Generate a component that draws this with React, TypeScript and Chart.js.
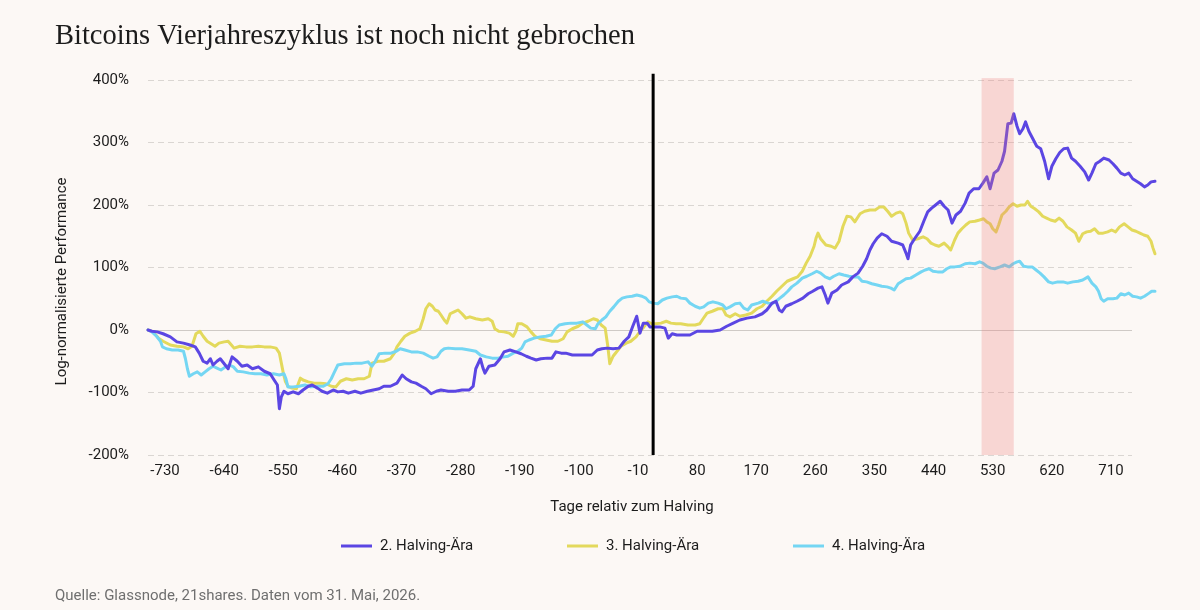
import React, { useEffect, useRef } from "react";
import { Chart, registerables } from "chart.js";

Chart.register(...registerables);

// ---- Texts ----
const TITLE = "Bitcoins Vierjahreszyklus ist noch nicht gebrochen";
const SOURCE = "Quelle: Glassnode, 21shares. Daten vom 31. Mai, 2026.";
const X_TITLE = "Tage relativ zum Halving";
const Y_TITLE = "Log-normalisierte Performance";
const SERIES_LABELS = ["2. Halving-Ära", "3. Halving-Ära", "4. Halving-Ära"];

// ---- Axes ----
const X_TICKS = [-730, -640, -550, -460, -370, -280, -190, -100, -10, 80, 170, 260, 350, 440, 530, 620, 710];
const X_RANGE = [-756, 742];
const Y_TICKS = [-200, -100, 0, 100, 200, 300, 400];
const Y_RANGE = [-200, 400];

// ---- Reference marks ----
const HALVING_MARK_DAY = 13;
const HALVING_MARK_TOP = 410;
const HIGHLIGHT_DAYS = [513, 562];
const HIGHLIGHT_TOP = 403;

// ---- 2. Halving-Ära ----
const era2Days = [
  -756, -750, -742, -733, -722, -712, -702, -692, -684, -678,
  -672, -666, -661, -657, -651, -646, -640, -634, -628, -620,
  -613, -605, -597, -588, -579, -570, -564, -559, -556, -553,
  -549, -543, -535, -527, -520, -512, -506, -498, -491, -483,
  -474, -467, -459, -451, -441, -432, -422, -413, -404, -397,
  -387, -377, -369, -363, -355, -348, -340, -333, -325, -317,
  -310, -299, -288, -278, -267, -261, -257, -250, -246, -243,
  -237, -228, -220, -214, -205, -196, -188, -180, -173, -165,
  -158, -148, -141, -135, -127, -120, -110, -101, -91, -80,
  -72, -65, -57, -48, -39, -31, -24, -18, -12, -7,
  -2, 4, 8, 14, 23, 31, 36, 42, 49, 58,
  69, 80, 92, 103, 115, 125, 135, 145, 156, 168,
  179, 186, 194, 200, 205, 209, 215, 224, 232, 241,
  249, 256, 264, 270, 275, 279, 285, 293, 300, 310,
  317, 325, 332, 338, 343, 348, 354, 361, 369, 376,
  386, 393, 398, 401, 405, 411, 419, 425, 431, 437,
  443, 450, 456, 462, 468, 474, 481, 488, 494, 501,
  509, 515, 521, 526, 532, 538, 544, 548, 553, 558,
  562, 567, 571, 576, 580, 585, 591, 597, 603, 609,
  615, 620, 626, 632, 638, 644, 650, 656, 663, 670,
  676, 681, 687, 693, 699, 707, 713, 719, 725, 731,
  737, 743, 749, 755, 761, 766, 771, 777,
];
const era2Perf = [
  0, -2, -3, -6, -11, -19, -21, -24, -27, -37,
  -50, -53, -46, -56, -50, -46, -54, -62, -43, -50,
  -58, -56, -62, -59, -66, -70, -80, -88, -126, -107,
  -98, -102, -99, -102, -96, -90, -88, -93, -98, -101,
  -96, -99, -98, -101, -98, -101, -98, -96, -94, -90,
  -90, -85, -72, -78, -83, -85, -90, -94, -102, -98,
  -96, -98, -98, -96, -96, -90, -62, -46, -61, -69,
  -58, -56, -46, -35, -32, -35, -38, -42, -45, -48,
  -46, -45, -45, -35, -37, -37, -40, -40, -40, -40,
  -32, -30, -29, -30, -29, -18, -11, 6, 22, -5,
  11, 11, 5, 5, 5, 3, -13, -6, -8, -8,
  -8, -2, -2, -2, 0, 6, 11, 16, 19, 21,
  26, 32, 43, 46, 32, 29, 38, 42, 46, 51,
  58, 62, 67, 69, 56, 43, 59, 64, 72, 77,
  85, 91, 102, 114, 128, 138, 147, 154, 150, 142,
  139, 136, 123, 114, 136, 146, 158, 174, 189, 195,
  200, 206, 198, 192, 171, 184, 190, 203, 219, 226,
  226, 235, 245, 226, 251, 256, 270, 286, 330, 331,
  346, 326, 314, 322, 333, 318, 306, 294, 290, 270,
  242, 262, 274, 284, 290, 291, 275, 270, 262, 253,
  240, 251, 266, 270, 275, 272, 266, 259, 251, 248,
  251, 242, 238, 234, 229, 232, 237, 238,
];

// ---- 3. Halving-Ära ----
const era3Days = [
  -756, -748, -740, -733, -722, -712, -702, -695, -689, -683,
  -677, -672, -666, -660, -654, -648, -640, -634, -629, -625,
  -616, -607, -597, -588, -579, -570, -561, -556, -553, -550,
  -547, -543, -537, -530, -524, -520, -512, -503, -494, -485,
  -477, -470, -463, -454, -445, -436, -427, -419, -415, -406,
  -397, -387, -381, -377, -371, -365, -357, -349, -342, -337,
  -333, -328, -323, -319, -314, -310, -305, -301, -296, -290,
  -284, -278, -272, -266, -257, -247, -238, -232, -228, -222,
  -214, -206, -200, -196, -193, -187, -179, -173, -167, -159,
  -150, -141, -132, -124, -118, -110, -101, -94, -86, -78,
  -72, -66, -60, -56, -53, -48, -42, -36, -28, -21,
  -13, -7, -1, 5, 11, 17, 25, 33, 40, 48,
  55, 66, 77, 84, 89, 95, 103, 112, 119, 124,
  130, 138, 145, 154, 163, 171, 179, 186, 194, 201,
  209, 217, 226, 233, 240, 246, 252, 258, 261, 264,
  268, 276, 284, 290, 296, 302, 308, 314, 320, 328,
  335, 343, 351, 358, 364, 370, 376, 383, 389, 393,
  398, 402, 408, 416, 424, 430, 436, 442, 448, 456,
  462, 466, 472, 477, 483, 489, 495, 503, 510, 516,
  521, 526, 530, 535, 539, 544, 550, 555, 561, 567,
  573, 579, 583, 588, 594, 600, 606, 612, 618, 625,
  631, 637, 643, 650, 656, 661, 667, 673, 679, 685,
  691, 698, 705, 711, 717, 723, 730, 736, 742, 748,
  754, 760, 766, 771, 774, 777,
];
const era3Perf = [
  0, -3, -13, -18, -24, -26, -27, -30, -26, -6,
  -2, -10, -18, -22, -26, -21, -19, -18, -24, -29,
  -26, -27, -27, -26, -27, -27, -29, -37, -53, -69,
  -82, -90, -93, -94, -77, -80, -83, -85, -85, -86,
  -90, -91, -82, -78, -80, -78, -78, -74, -53, -50,
  -50, -46, -37, -27, -18, -10, -5, -2, 2, 18,
  34, 42, 38, 32, 30, 24, 16, 11, 26, 29,
  32, 26, 19, 21, 18, 16, 18, 14, 2, -2,
  -3, -5, -10, -2, 10, 10, 5, -3, -10, -14,
  -16, -18, -18, -14, -3, 2, 6, 11, 14, 18,
  16, 8, 3, -26, -54, -42, -34, -26, -21, -18,
  -11, -2, 5, 13, 10, 10, 11, 14, 11, 10,
  10, 8, 8, 10, 18, 27, 30, 34, 34, 24,
  21, 26, 22, 24, 27, 34, 38, 46, 54, 62,
  70, 78, 82, 85, 94, 107, 118, 134, 147, 155,
  146, 136, 134, 131, 142, 166, 182, 181, 173, 186,
  190, 192, 192, 197, 197, 190, 182, 187, 189, 186,
  171, 155, 144, 146, 149, 146, 139, 136, 134, 139,
  133, 128, 144, 155, 162, 168, 173, 174, 176, 178,
  173, 170, 162, 157, 168, 184, 190, 197, 202, 198,
  200, 200, 206, 198, 194, 189, 182, 179, 176, 174,
  179, 174, 165, 160, 155, 142, 154, 157, 158, 162,
  155, 155, 157, 160, 157, 165, 170, 165, 160, 158,
  155, 152, 150, 142, 131, 122,
];

// ---- 4. Halving-Ära ----
const era4Days = [
  -756, -750, -743, -737, -734, -728, -719, -710, -702, -699,
  -696, -693, -687, -681, -675, -669, -663, -657, -651, -645,
  -638, -632, -626, -620, -611, -602, -593, -584, -575, -565,
  -556, -549, -546, -543, -535, -526, -517, -508, -498, -489,
  -482, -477, -473, -467, -457, -448, -439, -430, -421, -415,
  -410, -404, -395, -386, -378, -372, -365, -355, -346, -337,
  -328, -322, -316, -310, -305, -299, -288, -278, -267, -257,
  -250, -241, -232, -223, -214, -208, -200, -193, -187, -182,
  -176, -168, -159, -150, -142, -136, -130, -121, -112, -103,
  -94, -88, -82, -75, -71, -65, -59, -53, -47, -40,
  -34, -27, -19, -12, -4, 2, 7, 13, 20, 27,
  34, 42, 49, 55, 63, 69, 77, 84, 90, 97,
  104, 112, 119, 124, 130, 138, 145, 151, 157, 163,
  173, 180, 188, 194, 200, 206, 212, 218, 224, 232,
  240, 247, 255, 262, 268, 275, 282, 288, 296, 303,
  311, 319, 325, 331, 338, 346, 354, 361, 369, 375,
  380, 386, 392, 398, 405, 413, 421, 427, 433, 439,
  446, 454, 460, 466, 472, 480, 488, 495, 503, 510,
  515, 521, 527, 533, 541, 548, 555, 561, 567, 571,
  577, 583, 590, 596, 602, 608, 615, 621, 629, 637,
  644, 652, 660, 667, 675, 681, 687, 691, 695, 699,
  705, 713, 719, 725, 731, 737, 743, 749, 755, 761,
  768, 772, 777,
];
const era4Perf = [
  0, -3, -10, -18, -27, -30, -32, -32, -34, -46,
  -62, -74, -70, -67, -72, -67, -62, -58, -61, -64,
  -59, -56, -59, -66, -67, -69, -70, -70, -72, -70,
  -72, -70, -78, -91, -91, -90, -88, -91, -90, -90,
  -86, -78, -69, -56, -54, -54, -53, -53, -51, -58,
  -50, -38, -37, -37, -34, -30, -32, -35, -35, -37,
  -42, -45, -43, -34, -30, -29, -30, -30, -32, -34,
  -40, -43, -45, -45, -43, -42, -37, -34, -29, -19,
  -16, -13, -11, -10, -8, 2, 8, 10, 11, 11,
  13, 8, 3, 2, 10, 16, 21, 30, 37, 46,
  51, 53, 54, 56, 54, 51, 45, 43, 42, 48,
  51, 53, 54, 51, 50, 43, 38, 35, 37, 43,
  45, 43, 40, 34, 37, 42, 43, 35, 32, 40,
  43, 46, 43, 42, 46, 51, 56, 62, 69, 75,
  83, 86, 90, 94, 91, 85, 82, 86, 90, 88,
  86, 85, 85, 78, 77, 74, 72, 70, 69, 67,
  64, 74, 78, 82, 83, 88, 93, 96, 98, 94,
  93, 93, 98, 101, 101, 102, 106, 107, 106, 109,
  107, 102, 99, 98, 101, 104, 101, 106, 109, 110,
  102, 101, 101, 96, 91, 85, 77, 75, 77, 77,
  75, 77, 78, 80, 85, 75, 69, 62, 50, 46,
  50, 50, 51, 58, 56, 59, 54, 53, 51, 54,
  59, 62, 62,
];

// ---- Styling ----
const COLORS = ["#5b46e3", "#e3d95c", "#74d6f3"];
const BG = "#fcf8f5";
const INK = "#1c1c1c";
const MUTED = "#6f6f6f";
const SANS = "Roboto, 'Liberation Sans', sans-serif";
const SERIF = "'Liberation Serif', 'DejaVu Serif', serif";

const toPoints = (days: number[], perf: number[]) => days.map((d, i) => ({ x: d, y: perf[i] }));

// Highlight band, halving marker, axis titles, legend and source line.
const decorations = {
  id: "decorations",
  afterDatasetsDraw(chart: any) {
    const { ctx } = chart;
    const x = chart.scales.x;
    const y = chart.scales.y;
    const bottom = y.getPixelForValue(Y_RANGE[0]);
    ctx.save();
    const b0 = x.getPixelForValue(HIGHLIGHT_DAYS[0]);
    const b1 = x.getPixelForValue(HIGHLIGHT_DAYS[1]);
    const bTop = y.getPixelForValue(HIGHLIGHT_TOP);
    ctx.fillStyle = "rgba(236, 122, 122, 0.27)";
    ctx.fillRect(b0, bTop, b1 - b0, bottom - bTop);

    const hx = x.getPixelForValue(HALVING_MARK_DAY);
    ctx.strokeStyle = "#000000";
    ctx.lineWidth = 3;
    ctx.beginPath();
    ctx.moveTo(hx, y.getPixelForValue(HALVING_MARK_TOP));
    ctx.lineTo(hx, bottom);
    ctx.stroke();
    ctx.restore();
  },
  afterDraw(chart: any) {
    const { ctx, chartArea } = chart;
    ctx.save();
    ctx.font = `15px ${SANS}`;
    ctx.fillStyle = INK;
    ctx.textBaseline = "middle";

    // x-axis title
    ctx.textAlign = "center";
    ctx.fillText(X_TITLE, 632, chartArea.bottom + 52);

    // y-axis title
    ctx.save();
    ctx.translate(62, (chartArea.top + chartArea.bottom) / 2 + 14);
    ctx.rotate(-Math.PI / 2);
    ctx.fillText(Y_TITLE, 0, 0);
    ctx.restore();

    // legend
    ctx.textAlign = "left";
    const legendY = chartArea.bottom + 91;
    chart.data.datasets.forEach((ds: any, i: number) => {
      const lx = 341 + i * 226;
      ctx.strokeStyle = ds.borderColor;
      ctx.lineWidth = 3;
      ctx.beginPath();
      ctx.moveTo(lx, legendY);
      ctx.lineTo(lx + 31, legendY);
      ctx.stroke();
      ctx.fillStyle = INK;
      ctx.fillText(ds.label, lx + 39, legendY);
    });

    // source
    ctx.fillStyle = MUTED;
    ctx.fillText(SOURCE, 55, chartArea.bottom + 141);
    ctx.restore();
  },
};

export default function App() {
  const canvasRef = useRef<HTMLCanvasElement | null>(null);

  useEffect(() => {
    const canvas = canvasRef.current;
    if (!canvas) return;
    const series = [
      { data: toPoints(era2Days, era2Perf), order: 1 },
      { data: toPoints(era3Days, era3Perf), order: 3 },
      { data: toPoints(era4Days, era4Perf), order: 2 },
    ];
    const chart = new Chart(canvas, {
      type: "line",
      data: {
        datasets: series.map((s, i) => ({
          label: SERIES_LABELS[i],
          data: s.data,
          order: s.order,
          borderColor: COLORS[i],
          backgroundColor: COLORS[i],
          borderWidth: 3,
          pointRadius: 0,
          tension: 0,
          borderJoinStyle: "round",
          borderCapStyle: "round",
          clip: false,
        })),
      },
      options: {
        responsive: false,
        maintainAspectRatio: false,
        animation: false,
        devicePixelRatio: 1,
        layout: { padding: { left: 55, right: 68, top: 0, bottom: 0 } },
        plugins: {
          legend: { display: false },
          tooltip: { enabled: false },
          title: {
            display: true,
            text: TITLE,
            align: "start",
            color: INK,
            font: { family: SERIF, size: 28.5, weight: "normal" },
            padding: { top: 19.5, bottom: 26.3 },
          },
        },
        scales: {
          x: {
            type: "linear",
            bounds: "data",
            afterDataLimits(scale: any) {
              scale.min = X_RANGE[0];
              scale.max = X_RANGE[1];
            },
            afterBuildTicks(scale: any) {
              scale.ticks = X_TICKS.map((v) => ({ value: v }));
            },
            afterFit(scale: any) {
              scale.height = 155;
            },
            grid: { display: false, drawTicks: false },
            border: { display: false },
            ticks: {
              autoSkip: false,
              maxRotation: 0,
              padding: 7,
              color: INK,
              font: { family: SANS, size: 15 },
              callback: (v: any) => String(v),
            },
          },
          y: {
            type: "linear",
            min: Y_RANGE[0],
            max: Y_RANGE[1],
            afterBuildTicks(scale: any) {
              scale.ticks = Y_TICKS.map((v) => ({ value: v }));
            },
            afterFit(scale: any) {
              scale.width = 93;
            },
            grid: {
              drawTicks: false,
              lineWidth: 1,
              color: (c: any) => (c.tick && c.tick.value === 0 ? "#cfcac6" : "#dad6d2"),
            },
            border: {
              display: false,
              dash: (c: any) => (c.tick && c.tick.value === 0 ? [] : [6, 4]),
            },
            ticks: {
              padding: 19,
              color: INK,
              font: { family: SANS, size: 15 },
              callback: (v: any) => `${v}%`,
            },
          },
        },
      },
      plugins: [decorations],
    } as any);
    return () => chart.destroy();
  }, []);

  return (
    <div style={{ position: "absolute", left: 0, top: 0, width: 1200, height: 610, background: BG }}>
      <canvas ref={canvasRef} width={1200} height={610} style={{ display: "block" }} />
    </div>
  );
}
